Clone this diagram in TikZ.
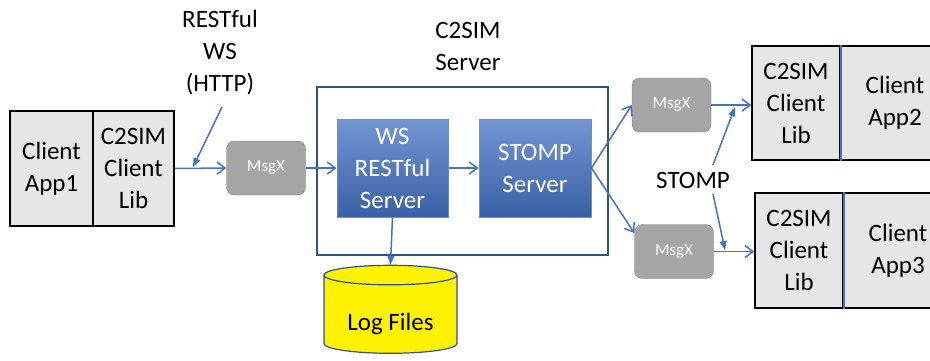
\documentclass[tikz,border=0pt]{standalone}
\usepackage{xcolor}
\usepackage{tikz}
\usepackage{fontspec}
\setmainfont{Carlito}
\usetikzlibrary{shapes.geometric, arrows.meta, positioning}

\definecolor{arrowblue}{HTML}{4472C4}
\definecolor{frameblue}{HTML}{2F528F}
\definecolor{boxgray}{HTML}{E7E6E6}
\definecolor{msggray}{HTML}{A5A5A5}

\begin{document}
\begin{tikzpicture}[x=1pt,y=-1pt,
    bigtext/.style={font=\fontsize{25}{32}\selectfont, align=center},
    clientbox/.style={bigtext, draw=black, line width=1.5pt, fill=boxgray, inner sep=0pt},
    msgbox/.style={draw=black!50, fill=msggray, rounded corners=8pt, text=white,
      font=\fontsize{17}{20}\selectfont, minimum width=79pt, minimum height=54pt},
    srvbox/.style={bigtext, text=white, draw=arrowblue!80!white, line width=1pt,
      top color=arrowblue!75!white, bottom color=arrowblue!85!black,
      minimum width=111pt, minimum height=98pt, inner sep=0pt}]
        \useasboundingbox (0,0) rectangle (930,360);
        \node[draw=frameblue, line width=1.5pt, minimum width=291pt, minimum height=168pt] (server) at (462.5,171) {};
        \node[bigtext] (title) at (468,46) {C2SIM\\Server};
        \node[bigtext] (rest) at (220,53) {RESTful\\WS\\(HTTP)};
        \node[bigtext] (stomplbl) at (693,180) {STOMP};
        \begin{scope}[every node/.style={clientbox, minimum height=115pt}]
          \node[minimum width=83pt] (app1) at (51.5,168.5) {Client\\App1};
          \node[minimum width=81pt] (lib1) at (133.5,168.5) {C2SIM\\Client\\Lib};
          \node[minimum width=88pt, minimum height=114pt] (lib2) at (796,103) {C2SIM\\Client\\Lib};
          \node[minimum width=120pt, minimum height=114pt] (app2) at (900,103) {};
          \node[minimum width=88pt] (lib3) at (799,250.5) {C2SIM\\Client\\Lib};
          \node[minimum width=120pt] (app3) at (903,250.5) {};
        \end{scope}
        \node[bigtext] at (895,103) {Client\\App2};
        \node[bigtext] at (898,250.5) {Client\\App3};
        \draw[arrowblue, line width=2pt] (lib2.north east) -- (lib2.south east);
        \draw[arrowblue, line width=2pt] (lib3.north east) -- (lib3.south east);
        \begin{scope}[every node/.style={msgbox}]
          \node (msg1) at (266,168) {MsgX};
          \node (msg2) at (671.5,105) {MsgX};
          \node (msg3) at (674,251.5) {MsgX};
        \end{scope}
        \node[srvbox] (ws) at (392.5,168) {WS\\RESTful\\Server};
        \node[srvbox, minimum width=112pt] (stomp) at (535,168) {STOMP\\Server};
        \node[cylinder, shape border rotate=90, aspect=0.21, draw=frameblue, line width=1.2pt,
          fill=yellow, bigtext, minimum width=133pt, minimum height=88pt] (logs) at (390.5,316) {\phantom{Log Files}};
        \node[bigtext] at ([yshift=-8pt]logs.center) {Log Files};
        \coordinate (restA) at (222,107);
        \coordinate (restB) at (193,167);
        \coordinate (stompA) at (713,165);
        \coordinate (stompB) at (735,107);
        \coordinate (stompC) at (713,194);
        \coordinate (stompD) at (725,250);
        \begin{scope}[every edge/.style={draw=arrowblue,line width=1.5pt,-{Straight Barb[length=8pt,width=12pt]}}]
          \path (lib1.east) edge (msg1.west);
          \path (msg1.east) edge (ws.west);
          \path (ws.east) edge (stomp.west);
          \path (stomp.east) edge (msg2.west);
          \path (stomp.east) edge (msg3.155);
          \path (msg2.east) edge (msg2.east -| lib2.west);
          \path (msg3.east) edge (msg3.east -| lib3.west);
        \end{scope}
        \begin{scope}[every edge/.style={draw=arrowblue,line width=1.5pt,-{Triangle[length=9pt,width=7pt]}}]
          \path (restA) edge (restB);
          \path (ws.south) edge (logs.north);
          \path (stompA) edge (stompB);
          \path (stompC) edge (stompD);
        \end{scope}
      \end{tikzpicture}
\end{document}
